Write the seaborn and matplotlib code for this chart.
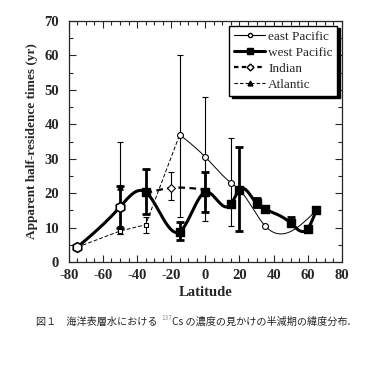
import seaborn as sns
import matplotlib.pyplot as plt
import numpy as np
import pandas as pd
from matplotlib.lines import Line2D
from matplotlib.ticker import MultipleLocator

# Dados (latitude, tempo de meia-residência aparente)
lat_east = [-15, 0, 15, 20, 35, 65]
val_east = [37, 30.5, 23, 21, 10.5, 15]
err_east_x = [-15, 0, 15]
err_east_lo = [13, 12, 10.5]
err_east_hi = [60, 48, 36]

lat_west = [-75, -50, -35, -15, 0, 15, 20, 30, 35, 50, 60, 65]
val_west = [4.3, 16, 20.3, 8.8, 20.3, 16.8, 21, 17, 15.3, 11.3, 9.7, 15]
err_west_x = [-50, -35, -15, 0, 20, 30, 50, 60]
err_west_lo = [10, 14, 6.5, 14.5, 9, 16, 10.5, 9]
err_west_hi = [22, 27, 11.5, 26, 33.5, 18.5, 13, 10.5]

lat_indian = [-35, -20, 0]
val_indian = [20, 21.5, 21]
err_indian_lo = [18]
err_indian_hi = [26]

lat_atl = [-75, -50, -35, -15]
val_atl = [4.3, 9, 10.8, 37]
err_atl_x = [-50, -50, -35]
err_atl_y = [21.7, 9, 10.8]
err_atl_lo = [8, 8, 8.3]
err_atl_hi = [35, 10.5, 13]


def spline(x, y, n=300):
    x = np.asarray(x, float)
    y = np.asarray(y, float)
    m = len(x)
    h = np.diff(x)
    A = np.zeros((m, m))
    b = np.zeros(m)
    A[0, 0] = A[-1, -1] = 1
    for i in range(1, m - 1):
        A[i, i - 1] = h[i - 1]
        A[i, i] = 2 * (h[i - 1] + h[i])
        A[i, i + 1] = h[i]
        b[i] = 3 * ((y[i + 1] - y[i]) / h[i] - (y[i] - y[i - 1]) / h[i - 1])
    c = np.linalg.solve(A, b)
    xs = np.linspace(x[0], x[-1], n)
    idx = np.clip(np.searchsorted(x, xs) - 1, 0, m - 2)
    dx = xs - x[idx]
    bc = (y[1:] - y[:-1]) / h - h * (2 * c[:-1] + c[1:]) / 3
    d = (c[1:] - c[:-1]) / (3 * h)
    ys = y[idx] + bc[idx] * dx + c[idx] * dx ** 2 + d[idx] * dx ** 3
    return pd.DataFrame({'lat': xs, 'val': ys})


sns.set_style("ticks")
plt.rcParams['font.family'] = ['Liberation Serif', 'DejaVu Serif']
plt.rcParams['axes.unicode_minus'] = False

fig = plt.figure(figsize=(3.74, 3.69), dpi=100)
ax = fig.add_axes([0.184, 0.29, 0.73, 0.653])

# curvas suavizadas
sns.lineplot(data=spline(lat_west, val_west), x='lat', y='val', ax=ax,
             color='black', lw=2.2, sort=False)
sns.lineplot(data=spline(lat_east, val_east), x='lat', y='val', ax=ax,
             color='black', lw=0.7, sort=False)
sns.lineplot(data=spline(lat_indian, val_indian), x='lat', y='val', ax=ax,
             color='black', lw=1.6, ls=(0, (3, 2)), sort=False)
sns.lineplot(data=pd.DataFrame({'lat': lat_atl, 'val': val_atl}), x='lat', y='val',
             ax=ax, color='black', lw=0.7, ls=(0, (4, 2)), sort=False)

# barras de erro
wv = np.array([val_west[lat_west.index(v)] for v in err_west_x])
ax.errorbar(err_west_x, wv, yerr=[wv - np.array(err_west_lo), np.array(err_west_hi) - wv],
            fmt='none', ecolor='black', elinewidth=2, capsize=3, capthick=2)
ev = np.array([val_east[lat_east.index(v)] for v in err_east_x])
ax.errorbar(err_east_x, ev, yerr=[ev - np.array(err_east_lo), np.array(err_east_hi) - ev],
            fmt='none', ecolor='black', elinewidth=0.8, capsize=2.5, capthick=0.8)
ax.errorbar([-20], [21.5], yerr=[[21.5 - err_indian_lo[0]], [err_indian_hi[0] - 21.5]],
            fmt='none', ecolor='black', elinewidth=0.8, capsize=2.5, capthick=0.8)
ay = np.array(err_atl_y)
ax.errorbar(err_atl_x, ay, yerr=[ay - np.array(err_atl_lo), np.array(err_atl_hi) - ay],
            fmt='none', ecolor='black', elinewidth=0.8, capsize=2.5, capthick=0.8)

# marcadores
ax.scatter(lat_west[2:], val_west[2:], marker='s', s=38, color='black', zorder=5)
ax.scatter(lat_west[:2], val_west[:2], marker='h', s=50, facecolor='white',
           edgecolor='black', lw=1.2, zorder=5)
ax.scatter(lat_east[:3] + [35], [37, 30.5, 23, 10.5], marker='o', s=18,
           facecolor='white', edgecolor='black', lw=0.8, zorder=5)
ax.scatter([-50, -35], [9, 10.8], marker='s', s=12, facecolor='white',
           edgecolor='black', lw=0.8, zorder=5)
ax.scatter([-20], [21.5], marker='D', s=16, facecolor='white', edgecolor='black',
           lw=0.8, zorder=5)
ax.scatter([-50], [21.7], marker='^', s=14, color='black', zorder=5)

ax.set_xlim(-80, 80)
ax.set_ylim(0, 70)
ax.xaxis.set_major_locator(MultipleLocator(20))
ax.xaxis.set_minor_locator(MultipleLocator(5))
ax.yaxis.set_major_locator(MultipleLocator(10))
ax.yaxis.set_minor_locator(MultipleLocator(5))
ax.tick_params(which='both', direction='in', top=True, right=True, width=0.8)
ax.tick_params(which='major', length=5, labelsize=10.5)
ax.tick_params(axis='y', which='major', pad=7)
ax.tick_params(axis='x', which='major', pad=5)
ax.tick_params(which='minor', length=3)
for lab in ax.get_xticklabels() + ax.get_yticklabels():
    lab.set_fontweight('bold')
for s in ax.spines.values():
    s.set_linewidth(0.9)

ax.set_xlabel('Latitude', fontsize=10.5, fontweight='bold', labelpad=3)
ax.set_ylabel('Apparent half-residence times (yr)', fontsize=9.5, fontweight='bold', labelpad=5)

handles = [
    Line2D([], [], color='black', lw=0.8, marker='o', ms=3, mfc='white'),
    Line2D([], [], color='black', lw=2.2, marker='s', ms=5),
    Line2D([], [], color='black', lw=1.6, ls=(0, (2, 1.5)), marker='D', ms=3.5, mfc='white'),
    Line2D([], [], color='black', lw=0.8, ls=(0, (3, 2)), marker='^', ms=3.5),
]
leg = ax.legend(handles, ['east Pacific', 'west Pacific', 'Indian', 'Atlantic'],
                loc='upper right', fontsize=9.5, frameon=True, fancybox=False,
                shadow={'color': 'black', 'alpha': 1},
                edgecolor='black', handlelength=2.4, handletextpad=0.2, borderpad=0.35,
                labelspacing=0.3, borderaxespad=0.35, framealpha=1)
leg.get_frame().set_linewidth(1.0)

# legenda da figura em japonês
jp = ['Noto Sans CJK JP', 'DejaVu Sans']
fig.canvas.draw()
r = fig.canvas.get_renderer()
t1 = fig.text(36 / 374, 1 - 325 / 369, '図１　海洋表層水における ', fontsize=7.3, family=jp)
w1 = t1.get_window_extent(r).x1 / fig.bbox.width
t2 = fig.text(w1 + 0.004, 1 - 320 / 369, '137', fontsize=4.8, family=jp, color='#999999')
w2 = t2.get_window_extent(r).x1 / fig.bbox.width
fig.text(w2, 1 - 325 / 369, 'Cs の濃度の見かけの半減期の緯度分布.', fontsize=7.3, family=jp)

plt.savefig('out.png', dpi=100)
